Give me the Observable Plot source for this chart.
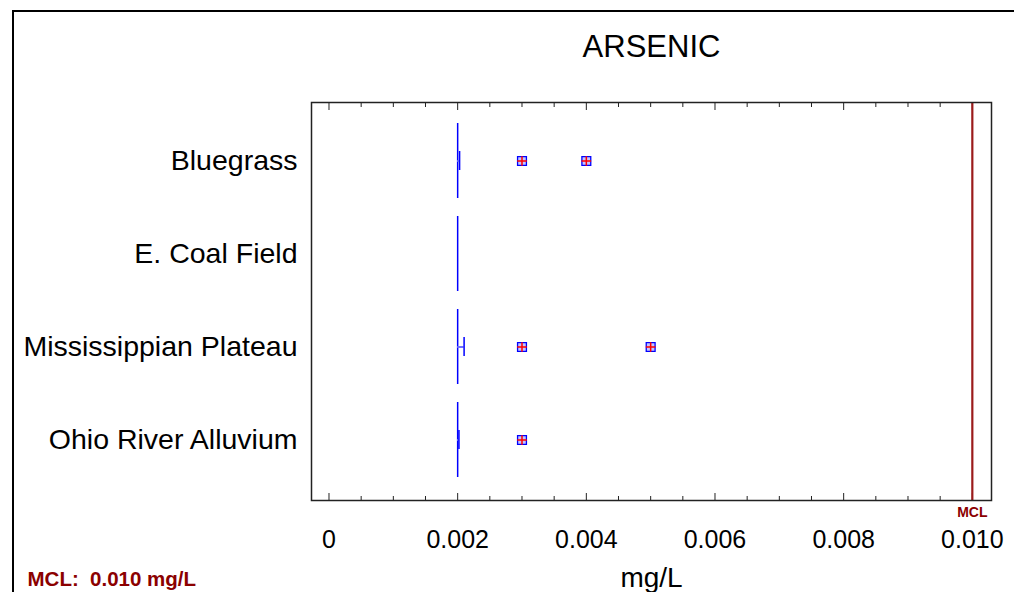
<!DOCTYPE html>
<html><head><meta charset="utf-8">
<script src="https://cdn.jsdelivr.net/npm/d3@7"></script>
<script src="https://cdn.jsdelivr.net/npm/@observablehq/plot@0.6"></script>
<style>
html,body{margin:0;padding:0;background:#fff;overflow:hidden;}
#wrap{position:relative;width:1014px;height:592px;}
#wrap svg{position:absolute;left:0;top:0;}
#border{position:absolute;left:12px;top:10px;width:1100px;height:700px;border-top:2px solid #000;border-left:2px solid #000;pointer-events:none;}
</style></head><body><div id="wrap"><div id="border"></div></div>
<script>
// ---- data ----
const titleText = "ARSENIC";
const xLabel = "mg/L";
const mclNote = "MCL:\u00a0 0.010 mg/L";
const regions = ["Bluegrass", "E. Coal Field", "Mississippian Plateau", "Ohio River Alluvium"];
const whiskerAt = [0.002, 0.002, 0.002, 0.002];
const boxLow = [0.002, 0.002, 0.002, 0.002];
const boxHigh = [0.00203, 0.002, 0.0021, 0.00202];
const outlierRegion = ["Bluegrass", "Bluegrass", "Mississippian Plateau", "Mississippian Plateau", "Ohio River Alluvium"];
const outlierValue = [0.003, 0.004, 0.003, 0.005, 0.003];
const xTicks = [0, 0.002, 0.004, 0.006, 0.008, 0.010];
const xMinorTicks = [0.0005, 0.001, 0.0015, 0.0025, 0.003, 0.0035, 0.0045, 0.005, 0.0055, 0.0065, 0.007, 0.0075, 0.0085, 0.009, 0.0095];
const mcl = 0.010;

// ---- tables ----
const rows = regions.map((r, i) => ({region: r, whisker: whiskerAt[i], low: boxLow[i], high: boxHigh[i]}));
const boxes = rows.filter(d => d.high > d.low);
const outliers = outlierRegion.map((r, i) => ({region: r, value: outlierValue[i]}));
const fmt = d => d === 0 ? "0" : d.toFixed(3);
const blue = "#0000ff", red = "#ff0000", dark = "#8b0000";

const chart = Plot.plot({
  width: 1014, height: 592,
  marginLeft: 311, marginRight: 23, marginTop: 102, marginBottom: 92,
  style: {fontFamily: "'Liberation Sans', Arial, sans-serif", background: "transparent", color: "#000", overflow: "visible"},
  x: {domain: [-0.000272, 0.010298]},
  y: {type: "band", domain: regions, paddingInner: 0.19, paddingOuter: 0, insetTop: 20, insetBottom: 21},
  marks: [
    Plot.axisX({anchor: "bottom", ticks: xMinorTicks, tickSize: -4, tickFormat: () => "", label: null, stroke: "#222"}),
    Plot.axisX({anchor: "top", ticks: xMinorTicks, tickSize: -4, tickFormat: () => "", label: null, stroke: "#222"}),
    Plot.axisX({anchor: "bottom", ticks: xTicks, tickSize: -7, tickFormat: () => "", label: null, stroke: "#222"}),
    Plot.axisX({anchor: "top", ticks: xTicks, tickSize: -7, tickFormat: () => "", label: null, stroke: "#222"}),
    Plot.axisX({anchor: "bottom", ticks: xTicks, tickSize: 0, tickPadding: 30, tickFormat: fmt, label: null, fontSize: 25, fill: "#000"}),
    Plot.axisY({anchor: "left", tickSize: 0, tickPadding: 14, label: null, fontSize: 28.5, fill: "#000"}),
    Plot.tickX(rows, {x: "whisker", y: "region", stroke: blue, strokeWidth: 1.5}),
    Plot.ruleY(boxes, {y: "region", x1: "low", x2: "high", stroke: "#7070ff", strokeWidth: 2}),
    Plot.tickX(boxes, {x: "high", y: "region", insetTop: 28, insetBottom: 28, stroke: blue, strokeWidth: 1.5}),
    Plot.dot(outliers, {x: "value", y: "region", symbol: "square", r: 5, stroke: blue, fill: "#c4c4ff", strokeWidth: 1.3}),
    Plot.dot(outliers, {x: "value", y: "region", symbol: "plus", r: 3.2, stroke: red, strokeWidth: 1.5}),
    Plot.ruleX([mcl], {stroke: "#9b1b1b", strokeWidth: 2.2}),
    Plot.frame({stroke: "#222", strokeWidth: 1.5}),
    Plot.text([titleText], {frameAnchor: "top", lineAnchor: "middle", dy: -55, text: d => d, fontSize: 31, fill: "#000"}),
    Plot.text([xLabel], {frameAnchor: "bottom", lineAnchor: "middle", dy: 78, text: d => d, fontSize: 28, fill: "#000"}),
    Plot.text(["MCL"], {x: () => mcl, frameAnchor: "bottom", lineAnchor: "middle", dy: 12, text: d => d, fontSize: 14, fontWeight: "bold", fill: dark}),
    Plot.text([mclNote], {frameAnchor: "bottom-left", lineAnchor: "middle", dx: -284, dy: 79, textAnchor: "start", text: d => d, fontSize: 20.5, fontWeight: "bold", fill: dark})
  ]
});
document.getElementById("wrap").prepend(chart);
</script>
</body></html>
